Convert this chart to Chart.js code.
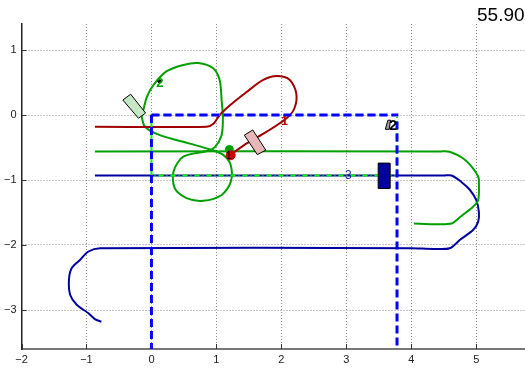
<!DOCTYPE html>
<html>
<head>
<meta charset="utf-8">
<script src="https://cdn.jsdelivr.net/npm/chart.js@4.4.1/dist/chart.umd.min.js"></script>
<style>
  body { margin: 0; background: #fff; }
  #wrap { width: 525px; height: 370px; }
</style>
</head>
<body>
<div id="wrap"><canvas id="chart" width="525" height="370"></canvas></div>
<script>
// tick labels
const xTicks = [-2, -1, 0, 1, 2, 3, 4, 5];
const yTicks = [-3, -2, -1, 0, 1];
const titleText = "55.90";

// trajectories [x, y]
const redPath = [[-0.87,-0.18],[0.85,-0.18],[0.96,-0.13],[1.05,0.0],[1.21,0.15],[1.46,0.35],[1.72,0.54],[1.93,0.60],[2.13,0.54],[2.23,0.33],[2.20,0.10],[2.08,-0.05],[1.77,-0.26],[1.46,-0.44],[1.22,-0.61]];
const greenLoop = [[-0.15,-0.03],[-0.07,0.28],[0.03,0.46],[0.23,0.67],[0.49,0.77],[0.72,0.80],[0.95,0.72],[1.05,0.54],[1.08,0.23],[1.10,-0.05],[1.08,-0.31],[0.98,-0.49],[0.87,-0.55],[0.49,-0.64],[0.34,-0.87],[0.36,-1.13],[0.54,-1.28],[0.80,-1.32],[1.08,-1.23],[1.22,-1.03],[1.22,-0.77],[1.10,-0.61],[0.90,-0.53],[0.59,-0.44],[0.13,-0.31],[-0.10,-0.18],[-0.15,-0.03]];
const greenPlan = [[-0.87,-0.56],[4.45,-0.56],[4.59,-0.565],[4.80,-0.67],[4.95,-0.82],[5.03,-0.95],[5.04,-1.0],[5.03,-1.31],[4.95,-1.41],[4.75,-1.57],[4.62,-1.67],[4.34,-1.68],[4.04,-1.67]];
const bluePath = [[-0.87,-0.93],[4.50,-0.93],[4.62,-0.93],[4.77,-1.03],[4.90,-1.15],[5.0,-1.31],[5.04,-1.49],[5.03,-1.64],[4.95,-1.77],[4.75,-1.92],[4.59,-2.05],[4.34,-2.06],[4.0,-2.05],[-0.79,-2.05],[-0.97,-2.10],[-1.10,-2.23],[-1.23,-2.36],[-1.27,-2.54],[-1.25,-2.77],[-1.15,-2.92],[-0.97,-3.05],[-0.87,-3.14],[-0.77,-3.18]];

// region outlines
const regionBox = [[0,-0.93],[0,0],[3.78,0],[3.78,-0.93],[0,-0.93]];
const dashLeft = [[0,0],[0,-3.6]];
const dashTop = [[0,0],[3.8,0]];
const dashRight = [[3.78,-0.1],[3.78,-3.6]];

// vehicles (corner points)
const carRed = [[1.43,-0.31],[1.56,-0.23],[1.76,-0.54],[1.63,-0.61],[1.43,-0.31]];
const carGreen = [[-0.44,0.23],[-0.32,0.32],[-0.09,0.03],[-0.20,-0.05],[-0.44,0.23]];
const carBlue = [[3.49,-0.74],[3.67,-0.74],[3.67,-1.13],[3.49,-1.13],[3.49,-0.74]];
const carGray = [[3.60,-0.22],[3.64,-0.08],[3.68,-0.08],[3.66,-0.22],[3.60,-0.22]];

const redDot = [[1.22,-0.62]];
const greenDot = [[1.20,-0.53]];
const blackDot = [[0.12,0.52]];

// labels
const labelText = ["2", "1", "1", "2", "3"];
const labelX = [0.13, 2.05, 1.19, 3.72, 3.03];
const labelY = [0.49, -0.11, -0.64, -0.17, -0.94];
const labelColor = ["#00a000", "#b00000", "#000000", "#000000", "#2020b0"];
const labelFont = ["bold 13px 'Liberation Sans', Arial", "bold 12px 'Liberation Sans', Arial", "10px 'Liberation Sans', Arial", "bold 14px 'Liberation Sans', Arial", "12px 'Liberation Sans', Arial"];

const pts = arr => arr.map(p => ({x: p[0], y: p[1]}));

function lineSet(data, color, width, order, extra) {
  return Object.assign({
    data: pts(data),
    borderColor: color,
    borderWidth: width,
    pointRadius: 0,
    fill: false,
    tension: 0.3,
    order: order
  }, extra || {});
}

function carSet(data, fillColor, order) {
  return {
    data: pts(data),
    borderColor: "#000",
    borderWidth: 1,
    backgroundColor: fillColor,
    pointRadius: 0,
    fill: "shape",
    tension: 0,
    order: order
  };
}

function dotSet(data, color, r, order) {
  return {
    data: pts(data),
    showLine: false,
    pointRadius: r,
    pointBackgroundColor: color,
    pointBorderColor: color,
    order: order
  };
}

// title, labels and inward ticks
const extrasPlugin = {
  id: "extras",
  afterDatasetsDraw(chart) {
    const ctx = chart.ctx;
    const xs = chart.scales.x, ys = chart.scales.y;
    ctx.save();
    ctx.textAlign = "center";
    ctx.textBaseline = "middle";
    labelText.forEach((t, i) => {
      ctx.font = labelFont[i];
      ctx.fillStyle = labelColor[i];
      ctx.fillText(t, xs.getPixelForValue(labelX[i]), ys.getPixelForValue(labelY[i]));
    });
    ctx.restore();
  },
  afterDraw(chart) {
    const ctx = chart.ctx;
    const a = chart.chartArea;
    const xs = chart.scales.x, ys = chart.scales.y;
    ctx.save();
    ctx.strokeStyle = "#333";
    ctx.lineWidth = 1;
    ctx.beginPath();
    xTicks.forEach(v => {
      const px = Math.round(xs.getPixelForValue(v)) + 0.5;
      ctx.moveTo(px, a.bottom);
      ctx.lineTo(px, a.bottom - 5);
    });
    yTicks.forEach(v => {
      const py = Math.round(ys.getPixelForValue(v)) + 0.5;
      ctx.moveTo(a.left, py);
      ctx.lineTo(a.left + 5, py);
    });
    ctx.stroke();
    ctx.font = "19px 'Liberation Sans', Arial";
    ctx.fillStyle = "#000";
    ctx.textAlign = "left";
    ctx.textBaseline = "alphabetic";
    ctx.fillText(titleText, 477, 21);
    ctx.restore();
  }
};

const tickFont = {family: "'Liberation Sans', Arial", size: 11};
const fmt = v => String(v).replace("-", "\u2212");

new Chart(document.getElementById("chart"), {
  type: "line",
  data: {
    datasets: [
      dotSet(redDot, "#d00000", 4.5, 1),
      dotSet(greenDot, "#00a000", 4, 2),
      dotSet(blackDot, "#000", 1.5, 2),
      carSet(carRed, "#e8b8b8", 3),
      carSet(carGreen, "#c4e8c4", 3),
      carSet(carBlue, "#0000a0", 3),
      carSet(carGray, "#a0a0a0", 3),
      lineSet(dashLeft, "#0000ff", 3, 4, {borderDash: [8, 4], tension: 0}),
      lineSet(dashTop, "#0000ff", 3, 4, {borderDash: [8, 4], tension: 0}),
      lineSet(dashRight, "#0000ff", 3, 4, {borderDash: [8, 4], tension: 0}),
      lineSet(regionBox, "#00ff00", 2, 5, {borderDash: [5, 3, 1, 3], tension: 0}),
      lineSet(redPath, "#a00000", 2, 6),
      lineSet(greenLoop, "#00a000", 2, 6),
      lineSet(greenPlan, "#00a000", 2, 7),
      lineSet(bluePath, "#0000a0", 2, 7)
    ]
  },
  options: {
    responsive: false,
    animation: false,
    devicePixelRatio: 1,
    layout: {autoPadding: false, padding: {top: 24, right: 0, left: 0, bottom: 0}},
    plugins: {legend: {display: false}, tooltip: {enabled: false}},
    scales: {
      x: {
        type: "linear",
        min: -2,
        max: 5.75,
        afterBuildTicks: s => { s.ticks = xTicks.map(v => ({value: v})); },
        afterFit: s => { s.height = 21; s.paddingLeft = 0; s.paddingRight = 0; },
        ticks: {font: tickFont, color: "#222", padding: 4, maxRotation: 0, autoSkip: false, callback: fmt},
        grid: {color: "#8c8c8c", lineWidth: 1, drawTicks: false},
        border: {color: "#777", width: 2, dash: [1, 2]}
      },
      y: {
        type: "linear",
        min: -3.6,
        max: 1.4,
        afterBuildTicks: s => { s.ticks = yTicks.map(v => ({value: v})); },
        afterFit: s => { s.width = 21.5; s.paddingTop = 0; s.paddingBottom = 0; },
        ticks: {font: tickFont, color: "#222", padding: 5, autoSkip: false, callback: fmt},
        grid: {color: "#8c8c8c", lineWidth: 1, drawTicks: false},
        border: {color: "#222", width: 1.5, dash: [1, 2]}
      }
    }
  },
  plugins: [extrasPlugin]
});
</script>
</body>
</html>
